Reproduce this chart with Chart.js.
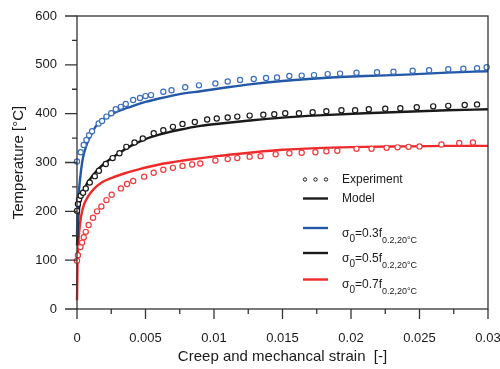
<!DOCTYPE html>
<html>
<head>
<meta charset="utf-8">
<script src="https://cdn.jsdelivr.net/npm/chart.js@4/dist/chart.umd.min.js"></script>
<style>
  html, body { margin: 0; padding: 0; background: #fff; }
  #wrap { width: 500px; height: 369px; }
</style>
</head>
<body>
<div id="wrap"><canvas id="chart"></canvas></div>
<script>
"use strict"

// tick labels
const xTickValues = [0, 0.005, 0.01, 0.015, 0.02, 0.025, 0.03];
const xTickLabels = ['0', '0.005', '0.01', '0.015', '0.02', '0.025', '0.03'];
const yTickLabels = ['0', '100', '200', '300', '400', '500', '600'];

// experiment, sigma0 = 0.3 f
const expStrain03 = [0, 0.00027, 0.00049, 0.00069, 0.00088, 0.0011, 0.00158, 0.00183, 0.00215, 0.0025,
  0.00283, 0.0032, 0.00356, 0.0041, 0.0046, 0.005, 0.0054, 0.0063, 0.0069, 0.0079,
  0.0089, 0.0101, 0.011, 0.0119, 0.0129, 0.0138, 0.0146, 0.0155, 0.0164, 0.0173,
  0.0183, 0.0192, 0.0204, 0.0219, 0.0231, 0.0245, 0.0257, 0.0271, 0.0282, 0.0292, 0.0299];
const expTemp03 = [302, 321, 336, 346, 356, 364, 380, 385, 394, 401,
  409, 414, 420, 428, 432, 436, 438, 445, 448, 454,
  458, 462, 466, 469, 471, 473, 474, 477, 478, 479,
  481, 482, 484, 485, 486, 488, 489, 491, 492, 493, 495];

// experiment, sigma0 = 0.5 f
const expStrain05 = [0, 0.00007, 0.00015, 0.00027, 0.00044, 0.00064, 0.00093, 0.0013, 0.0016, 0.0021,
  0.0026, 0.0031, 0.0036, 0.0042, 0.0048, 0.0056, 0.0063, 0.007, 0.0077, 0.0086,
  0.0095, 0.0102, 0.011, 0.0117, 0.0126, 0.0136, 0.0144, 0.0152, 0.0162, 0.0172,
  0.0182, 0.0193, 0.0203, 0.0213, 0.0225, 0.0236, 0.0248, 0.026, 0.0271, 0.0283, 0.0292];
const expTemp05 = [201, 215, 225, 232, 238, 247, 259, 272, 283, 297,
  309, 319, 332, 341, 349, 360, 366, 373, 379, 383,
  388, 390, 392, 394, 396, 398, 399, 401, 401, 403,
  405, 407, 407, 409, 410, 411, 413, 415, 416, 418, 419];

// experiment, sigma0 = 0.7 f
const expStrain07 = [0, 0.00007, 0.00025, 0.00037, 0.00049, 0.00064, 0.00085, 0.00117, 0.00146, 0.00178,
  0.00215, 0.00253, 0.0032, 0.00365, 0.0041, 0.0049, 0.0056, 0.0063, 0.007, 0.0077,
  0.0084, 0.009, 0.0101, 0.011, 0.0117, 0.0126, 0.0134, 0.0145, 0.0155, 0.0164,
  0.0174, 0.0182, 0.019, 0.0204, 0.0215, 0.0226, 0.0234, 0.0242, 0.025, 0.0266, 0.0279, 0.0289];
const expTemp07 = [99, 110, 127, 136, 147, 158, 172, 187, 200, 210,
  223, 234, 247, 256, 262, 271, 279, 285, 289, 293,
  296, 298, 304, 307, 309, 312, 313, 317, 319, 320,
  321, 323, 324, 328, 328, 330, 331, 332, 333, 337, 340, 341];

// model curves
const modelStrain03 = [0, 0.00005, 0.00015, 0.0003, 0.00045, 0.0007, 0.001, 0.0014, 0.002, 0.0025, 0.003,
  0.004, 0.005, 0.006, 0.0075, 0.009, 0.0105, 0.0126, 0.015, 0.018, 0.021, 0.024, 0.027, 0.03];
const modelTemp03 = [150, 210, 245, 285, 312, 336, 355, 375, 390, 398, 405,
  415, 424, 431, 440, 446, 452, 460, 467, 473, 477, 480, 484, 487];

const modelStrain05 = [0, 0.0001, 0.0003, 0.0006, 0.001, 0.0015, 0.002, 0.003, 0.004, 0.005, 0.006,
  0.0075, 0.009, 0.0105, 0.0126, 0.015, 0.018, 0.021, 0.024, 0.027, 0.03];
const modelTemp05 = [130, 190, 228, 250, 268, 285, 298, 318, 335, 348, 357,
  367, 375, 380, 386, 392, 397, 401, 404, 407, 409];

const modelStrain07 = [0, 0.00003, 0.00007, 0.00015, 0.0003, 0.0005, 0.0008, 0.0012, 0.0018, 0.0025, 0.0035,
  0.0045, 0.006, 0.008, 0.0102, 0.0126, 0.015, 0.018, 0.021, 0.024, 0.027, 0.03];
const modelTemp07 = [18, 80, 120, 155, 190, 213, 230, 245, 259, 268, 278,
  286, 296, 305, 313, 320, 326, 330, 332, 333, 334, 334];

const FONT = "'Liberation Sans', Arial, sans-serif";
const BLUE = '#2358a6';
const BLUE_PT = '#3a6ec0';
const RED = '#ee2a2a';
const RED_PT = '#ef3b3b';
const INK = '#1a1a1a';

const pts = (xs, ys) => xs.map((x, i) => ({x: x, y: ys[i]}));

function expSet(xs, ys, color) {
  return {
    type: 'scatter',
    data: pts(xs, ys),
    borderColor: color,
    backgroundColor: '#fff',
    pointRadius: 2.6,
    pointBorderWidth: 1.2,
    showLine: false,
    clip: 8,
    order: 0
  };
}

function modelSet(xs, ys, color) {
  return {
    type: 'line',
    data: pts(xs, ys),
    borderColor: color,
    borderWidth: 2.4,
    pointRadius: 0,
    cubicInterpolationMode: 'monotone',
    fill: false,
    clip: 8,
    order: 1
  };
}

// kill the label overflow padding so the plot box sits where it should
function noPad(s) {
  s.paddingLeft = 0;
  s.paddingRight = 0;
  s.paddingTop = 0;
  s.paddingBottom = 0;
}

// frame and tick marks (major + minor)
const frame = {
  id: 'frame',
  afterDatasetsDraw(chart) {
    const {ctx, chartArea: a, scales: {x, y}} = chart;
    ctx.save();
    ctx.strokeStyle = '#333';
    ctx.lineWidth = 1.3;
    ctx.strokeRect(a.left, a.top, a.right - a.left, a.bottom - a.top);
    ctx.beginPath();
    for (let v = 0; v <= 0.0301; v += 0.0025) {
      const p = x.getPixelForValue(v);
      const major = Math.round(v / 0.0025) % 2 === 0;
      ctx.moveTo(p, a.bottom);
      ctx.lineTo(p, a.bottom + (major ? 10 : 5));
    }
    for (let v = 0; v <= 600; v += 50) {
      const p = y.getPixelForValue(v);
      const major = v % 100 === 0;
      ctx.moveTo(a.left, p);
      ctx.lineTo(a.left - (major ? 12 : 5), p);
    }
    ctx.stroke();
    ctx.restore();
  }
};

// legend with subscripts
const legendBox = {
  id: 'legendBox',
  afterDraw(chart) {
    const ctx = chart.ctx;
    const x0 = 303, x1 = 328, tx = 342;
    ctx.save();
    ctx.fillStyle = INK;
    ctx.font = '12px ' + FONT;
    ctx.textBaseline = 'middle';

    ctx.strokeStyle = INK;
    ctx.lineWidth = 1;
    [305, 315.5, 326].forEach(cx => {
      ctx.beginPath();
      ctx.arc(cx, 179.5, 1.7, 0, Math.PI * 2);
      ctx.stroke();
    });
    ctx.fillText('Experiment', tx, 180);

    ctx.lineWidth = 2.4;
    ctx.beginPath();
    ctx.moveTo(x0, 198.5); ctx.lineTo(x1, 198.5);
    ctx.stroke();
    ctx.fillText('Model', tx, 198.5);

    const rows = [[228, BLUE, '0.3'], [253, INK, '0.5'], [279.5, RED, '0.7']];
    rows.forEach(([ly, col, k]) => {
      ctx.strokeStyle = col;
      ctx.beginPath();
      ctx.moveTo(x0, ly); ctx.lineTo(x1, ly);
      ctx.stroke();
      const base = ly + 8.5;
      ctx.textBaseline = 'alphabetic';
      let cx = tx;
      ctx.font = '12px ' + FONT;
      ctx.fillText('σ', cx, base);
      cx += ctx.measureText('σ').width;
      ctx.font = '10px ' + FONT;
      ctx.fillText('0', cx, base + 5);
      cx += ctx.measureText('0').width;
      ctx.font = '12px ' + FONT;
      ctx.fillText('=' + k + 'f', cx, base);
      cx += ctx.measureText('=' + k + 'f').width;
      ctx.font = '9px ' + FONT;
      ctx.fillText('0.2,20°C', cx, base + 6);
    });
    ctx.restore();
  }
};

new Chart(document.getElementById('chart'), {
  data: {
    datasets: [
      expSet(expStrain03, expTemp03, BLUE_PT),
      expSet(expStrain05, expTemp05, INK),
      expSet(expStrain07, expTemp07, RED_PT),
      modelSet(modelStrain03, modelTemp03, BLUE),
      modelSet(modelStrain05, modelTemp05, INK),
      modelSet(modelStrain07, modelTemp07, RED)
    ]
  },
  options: {
    responsive: true,
    maintainAspectRatio: false,
    animation: false,
    layout: { padding: { left: 0, right: 12, top: 16, bottom: 0 } },
    plugins: {
      legend: { display: false },
      tooltip: { enabled: false }
    },
    scales: {
      x: {
        type: 'linear',
        position: 'bottom',
        min: 0,
        max: 0.03,
        afterBuildTicks: s => { s.ticks = xTickValues.map(v => ({value: v})); },
        afterFit: s => { s.height = 60; noPad(s); },
        ticks: {
          autoSkip: false,
          maxRotation: 0,
          padding: 22,
          color: INK,
          font: { family: FONT, size: 13 },
          callback: (v, i) => xTickLabels[i]
        },
        grid: { display: false, drawTicks: false },
        border: { display: false },
        title: {
          display: true,
          text: 'Creep and mechancal strain  [-]',
          color: INK,
          font: { family: FONT, size: 15 },
          padding: { top: 0, bottom: 3 }
        }
      },
      y: {
        type: 'linear',
        min: 0,
        max: 600,
        afterFit: s => { s.width = 77; noPad(s); },
        ticks: {
          stepSize: 100,
          padding: 20,
          color: INK,
          font: { family: FONT, size: 13 },
          callback: (v, i) => yTickLabels[i]
        },
        grid: { display: false, drawTicks: false },
        border: { display: false },
        title: {
          display: true,
          text: 'Temperature [°C]',
          color: INK,
          font: { family: FONT, size: 15 },
          padding: { top: 10, bottom: 0 }
        }
      }
    }
  },
  plugins: [frame, legendBox]
});
</script>
</body>
</html>
